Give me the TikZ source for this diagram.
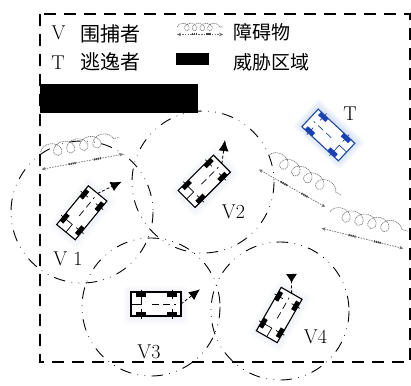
\documentclass[tikz,border=0pt]{standalone}
\usepackage{fontspec}
\newfontfamily\cjk{Noto Sans CJK SC}
\usetikzlibrary{arrows.meta,decorations.pathmorphing}

\definecolor{tline}{RGB}{30,70,160}
\definecolor{twheel}{RGB}{25,65,185}
\definecolor{tglow}{RGB}{150,180,230}
\definecolor{vglow}{RGB}{165,180,215}
\definecolor{wiregray}{RGB}{105,105,105}
\definecolor{loopgray}{RGB}{115,115,115}

\tikzset{
  % vehicle: #1 outline colour, #2 wheel colour, #3 glow fill style
  pics/car/.style n args={3}{code={
    \foreach \gw in {7,5.5,4,2.5,1}
      \fill[#3, rounded corners=3pt] (-25-\gw,-12-\gw+1) rectangle (25+\gw,12+\gw+1);
    \fill[white] (-25,-12) rectangle (25,12);
    \draw[#1, line width=1.1pt] (-25,-12) rectangle (25,12);
    \foreach \cx in {-15,16} {
      \fill[#2] (\cx-5,-12) rectangle (\cx+5,-7.5);
      \fill[#2] (\cx-5,7.5) rectangle (\cx+5,12);
      \draw[#1, line width=0.7pt] (\cx,-14.5) -- (\cx,-5) (\cx,5) -- (\cx,14.5);
    }
    \draw[#1, line width=0.7pt] (-15,-5) -- (-15,0) -- (-25,0);
    \draw[#1, line width=0.7pt, dash pattern=on 7pt off 4pt] (-4,0) -- (20,0);
    \coordinate (-front) at (25,0);
  }},
  % obstacle: #1 wire length, #2/#3 coil start/end, #4 coil offset,
  % #5 coil amplitude, #6 coil segment, #7 bead length
  pics/obstacle/.style n args={7}{code={
    \draw[loopline, decorate,
      decoration={coil, aspect=1.1, amplitude=#5, segment length=#6}]
      (#2,-#4) -- (#3,-#4);
    \draw[wire] (0,0) -- (#1,0);
    \draw[bead] ({0.33*#1},0) -- ++(#7,0);
    \draw[bead] ({0.64*#1},0) -- ++(#7,0);
  }},
  loopline/.style={draw=loopgray, line width=0.6pt, dash pattern=on 1.2pt off 0.7pt},
  wire/.style={draw=wiregray, line width=0.7pt, dash pattern=on 1.5pt off 1.2pt,
    {Stealth[length=4pt,width=3.5pt]}-{Stealth[length=4pt,width=3.5pt]}},
  bead/.style={draw=black!75, line width=2pt, dash pattern=on 1.2pt off 0.8pt},
  border/.style={line width=1.1pt, dash pattern=on 12pt off 8pt},
  sensing/.style={line width=0.9pt, line cap=round,
    dash pattern=on 11pt off 7pt on 0.1pt off 7pt on 0.1pt off 7pt},
  zone/.style={fill=black},
  heading/.style={line width=0.8pt, dash pattern=on 3pt off 2pt,
    -{Latex[length=11pt,width=10pt]}},
  headingback/.style={line width=0.8pt, dash pattern=on 3pt off 2pt,
    -{Latex[reversed,length=9pt,width=11pt]}},
  lbl/.style={inner sep=0pt, font=\fontsize{20}{24}\selectfont},
  cjklbl/.style={inner sep=0pt, anchor=west, font=\fontsize{#1}{24}\selectfont\cjk},
}

\begin{document}
\begin{tikzpicture}[x=1pt,y=-1pt]
\useasboundingbox (0,0) rectangle (411,385);

% working area
\draw[border] (40,14) rectangle (410,362);

% sensing ranges of the pursuers
\draw[sensing] (82,212) circle[radius=71];
\draw[sensing] (203,182) circle[radius=71];
\draw[sensing] (151,307) circle[radius=69];
\draw[sensing] (280,311) circle[radius=69];

% threat zone
\fill[zone] (40,84) rectangle (198,113);

% legend
\node[lbl] (legV) at (58.5,33) {V};
\node[cjklbl=20] (legVtxt) at (80,33.5) {围捕者};
\node[lbl] (legT) at (58,62.5) {T};
\node[cjklbl=20] (legTtxt) at (80,62) {逃逸者};
\pic (legO) at (177,34.5) {obstacle={46}{0}{46}{7.5}{3.8}{7.67}{5}};
\node[cjklbl=19] (legOtxt) at (233,32.5) {障碍物};
\fill[zone] (176,53) rectangle (209,65);
\node[cjklbl=19] (legZtxt) at (233,62) {威胁区域};

% obstacles
\pic[rotate=10.6] (o1) at (41.7,169.3) {obstacle={83}{2}{82}{17}{6.5}{13.3}{8}};
\pic[rotate=-29.4] (o2) at (259,169.5) {obstacle={76}{2}{84}{18}{6.5}{13.7}{8}};
\pic[rotate=-13.9] (o3) at (321.7,228.3) {obstacle={84}{4}{84}{18}{6.5}{13.3}{8}};

% pursuers
\pic[rotate=50.7] (v1) at (81.8,212.8) {car={black}{black}{fill=vglow,opacity=0.04}};
\pic[rotate=45] (v2) at (204.2,181.3) {car={black}{black}{fill=vglow,opacity=0.04}};
\pic (v3) at (156,304) {car={black}{black}{fill=vglow,opacity=0.04}};
\pic[rotate=60.2] (v4) at (279.2,315) {car={black}{black}{fill=vglow,opacity=0.04}};

% evader
\pic[rotate=137] (t) at (328.3,135) {car={tline}{twheel}{fill=tglow,opacity=0.09}};

% headings
\coordinate (v1goal) at (121.7,181.7);
\coordinate (v2goal) at (225,140);
\coordinate (v3goal) at (200,289.3);
\coordinate (v4goal) at (291.5,274);
\draw[heading] (v1-front) -- (v1goal);
\draw[heading] (v2-front) -- (v2goal);
\draw[heading] (v3-front) -- (v3goal);
\draw[headingback] (v4-front) -- (v4goal);

% labels
\node[lbl] (lv1) at (68,259) {V 1};
\node[lbl] (lv2) at (233.5,211.5) {V2};
\node[lbl] (lv3) at (149,352) {V3};
\node[lbl] (lv4) at (315.5,336.5) {V4};
\node[lbl] (lt) at (350,113.5) {T};
\end{tikzpicture}
\end{document}
